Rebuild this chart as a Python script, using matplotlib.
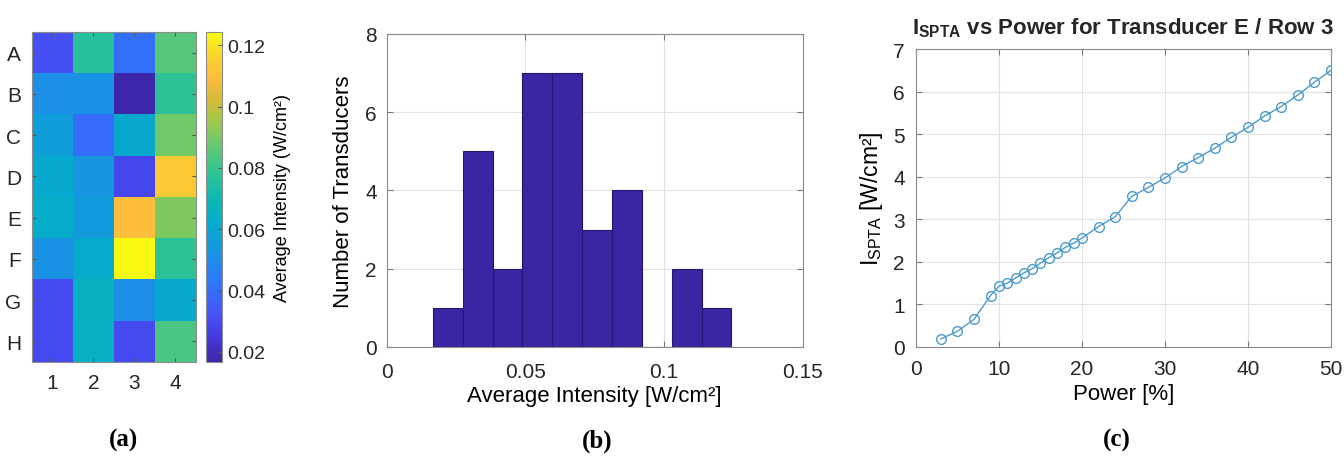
import numpy as np
import matplotlib
matplotlib.use('Agg')
import matplotlib.pyplot as plt
from matplotlib.colors import LinearSegmentedColormap

plt.rcParams['font.family'] = ['Liberation Sans', 'DejaVu Sans']
plt.rcParams['mathtext.fontset'] = 'custom'
plt.rcParams['mathtext.rm'] = 'Liberation Sans'
plt.rcParams['mathtext.bf'] = 'Liberation Sans:bold'
plt.rcParams['mathtext.it'] = 'Liberation Sans:italic'
plt.rcParams['text.color'] = '#262626'
plt.rcParams['xtick.color'] = '#262626'
plt.rcParams['ytick.color'] = '#262626'

# (a) average intensity per transducer [W/cm2], rows A-H, columns 1-4
rows = ['A', 'B', 'C', 'D', 'E', 'F', 'G', 'H']
cols = ['1', '2', '3', '4']
col1 = [0.031, 0.051, 0.056, 0.061, 0.063, 0.052, 0.030, 0.030]
col2 = [0.076, 0.052, 0.040, 0.053, 0.055, 0.062, 0.066, 0.065]
col3 = [0.041, 0.0167, 0.061, 0.029, 0.110, 0.1243, 0.050, 0.030]
col4 = [0.085, 0.078, 0.089, 0.113, 0.091, 0.078, 0.061, 0.083]

# (c) I_SPTA vs power, transducer E / row 3
power = [3, 5, 7, 9, 10, 11, 12, 13, 14, 15, 16, 17, 18, 19, 20,
         22, 24, 26, 28, 30, 32, 34, 36, 38, 40, 42, 44, 46, 48, 50]
ispta = [0.19, 0.37, 0.65, 1.21, 1.43, 1.50, 1.62, 1.74, 1.84, 1.97, 2.10, 2.21, 2.34, 2.44, 2.56,
         2.83, 3.06, 3.54, 3.75, 3.97, 4.24, 4.45, 4.67, 4.93, 5.16, 5.43, 5.65, 5.92, 6.22, 6.50]

# parula-like colormap (MATLAB)
parula = LinearSegmentedColormap.from_list('parula', [
    (0.00, (0.2422, 0.1504, 0.6603)),
    (0.08, (0.2760, 0.2300, 0.8900)),
    (0.16, (0.2700, 0.3500, 0.9900)),
    (0.25, (0.1700, 0.4800, 0.9800)),
    (0.33, (0.1000, 0.5800, 0.8900)),
    (0.42, (0.0200, 0.6700, 0.8000)),
    (0.50, (0.0500, 0.7300, 0.7000)),
    (0.58, (0.2000, 0.7700, 0.5700)),
    (0.67, (0.4300, 0.7900, 0.4200)),
    (0.74, (0.6600, 0.7800, 0.2800)),
    (0.80, (0.8500, 0.7300, 0.2200)),
    (0.86, (0.9900, 0.7400, 0.2400)),
    (0.93, (0.9800, 0.8300, 0.1700)),
    (1.00, (0.9769, 0.9839, 0.0805)),
])

edge = '#8c8c8c'
intensity = np.column_stack([col1, col2, col3, col4])

fig = plt.figure(figsize=(13.44, 4.64), dpi=100)

# (a) heatmap
ax = fig.add_axes([0.0238, 0.2177, 0.122, 0.711])
im = ax.imshow(intensity, cmap=parula, aspect='auto', interpolation='nearest')
ax.set_xticks(range(len(cols)))
ax.set_xticklabels(cols)
ax.set_yticks(range(len(rows)))
ax.set_yticklabels(rows)
ax.tick_params(direction='in', length=3, labelsize=15, pad=8, top=True, right=True, color='#555555')
for s in ax.spines.values():
    s.set_color(edge)
cax = fig.add_axes([0.1533, 0.2177, 0.0119, 0.711])
cb = fig.colorbar(im, cax=cax)
cb.set_ticks([0.02, 0.04, 0.06, 0.08, 0.1, 0.12])
cb.set_ticklabels(['0.02', '0.04', '0.06', '0.08', '0.1', '0.12'])
cb.ax.tick_params(direction='in', length=3, labelsize=14, pad=4, color='#555555')
cb.outline.set_edgecolor(edge)
cb.set_label('Average Intensity (W/cm²)', fontsize=13, labelpad=6)

# (b) histogram
ax = fig.add_axes([0.2877, 0.25, 0.3095, 0.6746])
ax.hist(intensity.ravel(), bins=10, color='#3b25a3', edgecolor='#24176e', linewidth=0.8, zorder=2)
ax.set_xlim(0, 0.15)
ax.set_ylim(0, 8)
ax.set_xticks([0, 0.05, 0.1, 0.15])
ax.set_xticklabels(['0', '0.05', '0.1', '0.15'])
ax.set_yticks([0, 2, 4, 6, 8])
ax.grid(True, color='#e2e2e2', linewidth=0.8)
ax.set_axisbelow(True)
ax.tick_params(direction='in', length=4, labelsize=15, top=True, right=True, color='#777777')
ax.tick_params(axis='x', pad=11)
ax.tick_params(axis='y', pad=7)
ax.set_xlabel('Average Intensity [W/cm²]', fontsize=16, labelpad=3)
ax.set_ylabel('Number of Transducers', fontsize=16, labelpad=8)
for s in ax.spines.values():
    s.set_color(edge)

# (c) I_SPTA vs power
ax = fig.add_axes([0.6815, 0.25, 0.3088, 0.642])
ax.plot(power, ispta, '-o', color='#4c9bcb', mfc='none', mew=1.0, ms=7, lw=1.0)
ax.set_xlim(0, 50)
ax.set_ylim(0, 7)
ax.set_xticks([0, 10, 20, 30, 40, 50])
ax.set_yticks(range(8))
ax.grid(True, color='#e2e2e2', linewidth=0.8)
ax.set_axisbelow(True)
ax.tick_params(direction='in', length=4, labelsize=15, top=True, right=True, color='#777777')
ax.tick_params(axis='x', pad=9)
ax.tick_params(axis='y', pad=8)
ax.set_xlabel('Power [%]', fontsize=16, labelpad=3)
ax.set_ylabel(r'$\mathrm{I_{SPTA}}$ [W/cm²]', fontsize=16.5, labelpad=6)
ax.set_title(r'$\mathbf{I_{SPTA}}$ vs Power for Transducer E / Row 3', fontsize=16, fontweight='bold', pad=11)
for s in ax.spines.values():
    s.set_color(edge)

# panel letters
for x, lab in [(0.092, '(a)'), (0.444, '(b)'), (0.831, '(c)')]:
    fig.text(x, 0.05, lab, ha='center', va='center', fontsize=18, fontweight='bold',
             family='Liberation Serif', color='black')

fig.savefig('out.png', dpi=100)
